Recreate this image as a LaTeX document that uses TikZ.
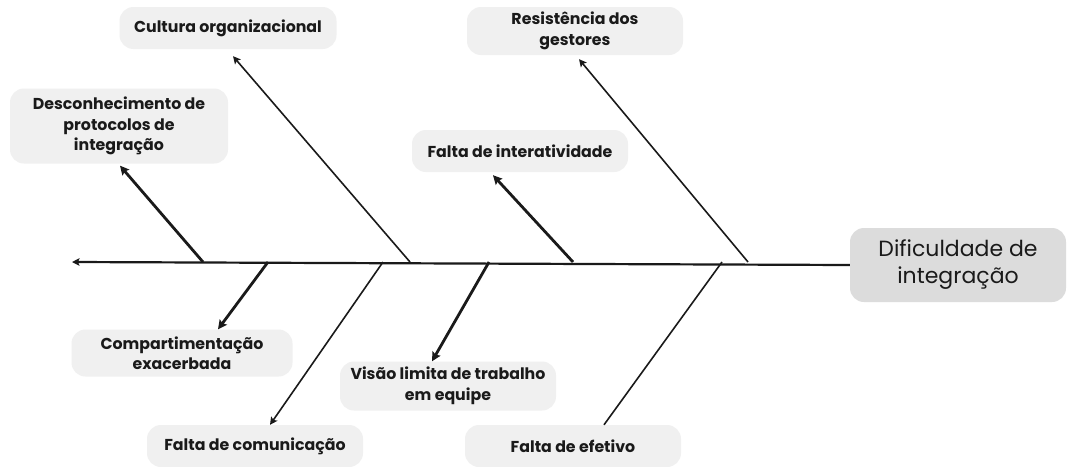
\documentclass[tikz,border=0pt]{standalone}
\usepackage{fontspec}
\setmainfont{Poppins}
\usetikzlibrary{arrows.meta,calc}
\definecolor{boxgray}{HTML}{F0F0F0}
\definecolor{headgray}{HTML}{DCDCDC}
\definecolor{ink}{HTML}{1A1A1A}
\tikzset{
  cause/.style={rectangle, rounded corners=14pt, fill=boxgray, draw=none, align=center,
    font=\fontsize{15.8}{20.5}\selectfont\bfseries, text=ink, inner sep=2pt},
  effect/.style={rectangle, rounded corners=14pt, fill=headgray, draw=none, align=center,
    font=\fontsize{22}{27}\selectfont, text=ink, inner sep=2pt,
    minimum width=216pt, minimum height=74pt},
  thickbone/.style={draw=ink, line width=2.8pt, -{Stealth[length=9pt,width=9pt,inset=1.5pt]}},
  thinbone/.style={draw=ink, line width=1.6pt, -{Stealth[length=7.5pt,width=7.5pt,inset=1.5pt]}},
  spine/.style={draw=ink, line width=2.2pt, -{Stealth[length=7.5pt,width=7.5pt,inset=1.5pt]}},
}
\begin{document}
\begin{tikzpicture}[x=1pt,y=-1pt]
\useasboundingbox (0,0) rectangle (1068,466);
\fill[white] (0,0) rectangle (1068,466);
% nodes
\node[effect] (dific) at (958,265) {Dificuldade de\\integração};
\node[cause, minimum width=217pt, minimum height=42pt] (cult) at (228,28) {Cultura organizacional};
\node[cause, minimum width=218pt, minimum height=75pt] (desc) at (119,126) {Desconhecimento de\\protocolos de\\integração};
\node[cause, minimum width=216pt, minimum height=42pt] (inter) at (520,151) {Falta de interatividade};
\node[cause, minimum width=216pt, minimum height=48pt] (resist) at (575,31) {Resistência dos\\gestores};
\node[cause, minimum width=221pt, minimum height=47pt] (comp) at (182,353) {Compartimentação\\exacerbada};
\node[cause, minimum width=216pt, minimum height=49pt] (visao) at (448,386) {Visão limita de trabalho\\em equipe};
\node[cause, minimum width=216pt, minimum height=42pt] (comun) at (255,446) {Falta de comunicação};
\node[cause, minimum width=216pt, minimum height=42pt] (efet) at (573,446) {Falta de efetivo};
% spine points
\coordinate (tail) at (72,262);
\coordinate (sdesc) at (203,262);
\coordinate (scomp) at (268,262);
\coordinate (scomun) at (383,262);
\coordinate (scult) at (410,262);
\coordinate (svisao) at (489,262);
\coordinate (sinter) at (573,262);
\coordinate (sefet) at (722,262);
\coordinate (sresist) at (748,262);
% spine
\draw[spine] (dific.west) -- (tail);
% bones
\draw[thinbone] (scult) -- ([xshift=5pt,yshift=-7pt]cult.south);
\draw[thickbone] (sdesc) -- ([xshift=1pt,yshift=-2pt]desc.south);
\draw[thickbone] (sinter) -- ([xshift=-27pt,yshift=-3pt]inter.south);
\draw[thinbone] (sresist) -- ([xshift=4pt,yshift=-4pt]resist.south);
\draw[thickbone] (scomp) -- ([xshift=36pt]comp.north);
\draw[thickbone] (svisao) -- ([xshift=-16pt]visao.north);
\draw[thinbone] (scomun) -- ([xshift=15pt]comun.north);
\draw[draw=ink, line width=1.6pt] (sefet) -- ([xshift=31pt]efet.north);
\end{tikzpicture}
\end{document}
